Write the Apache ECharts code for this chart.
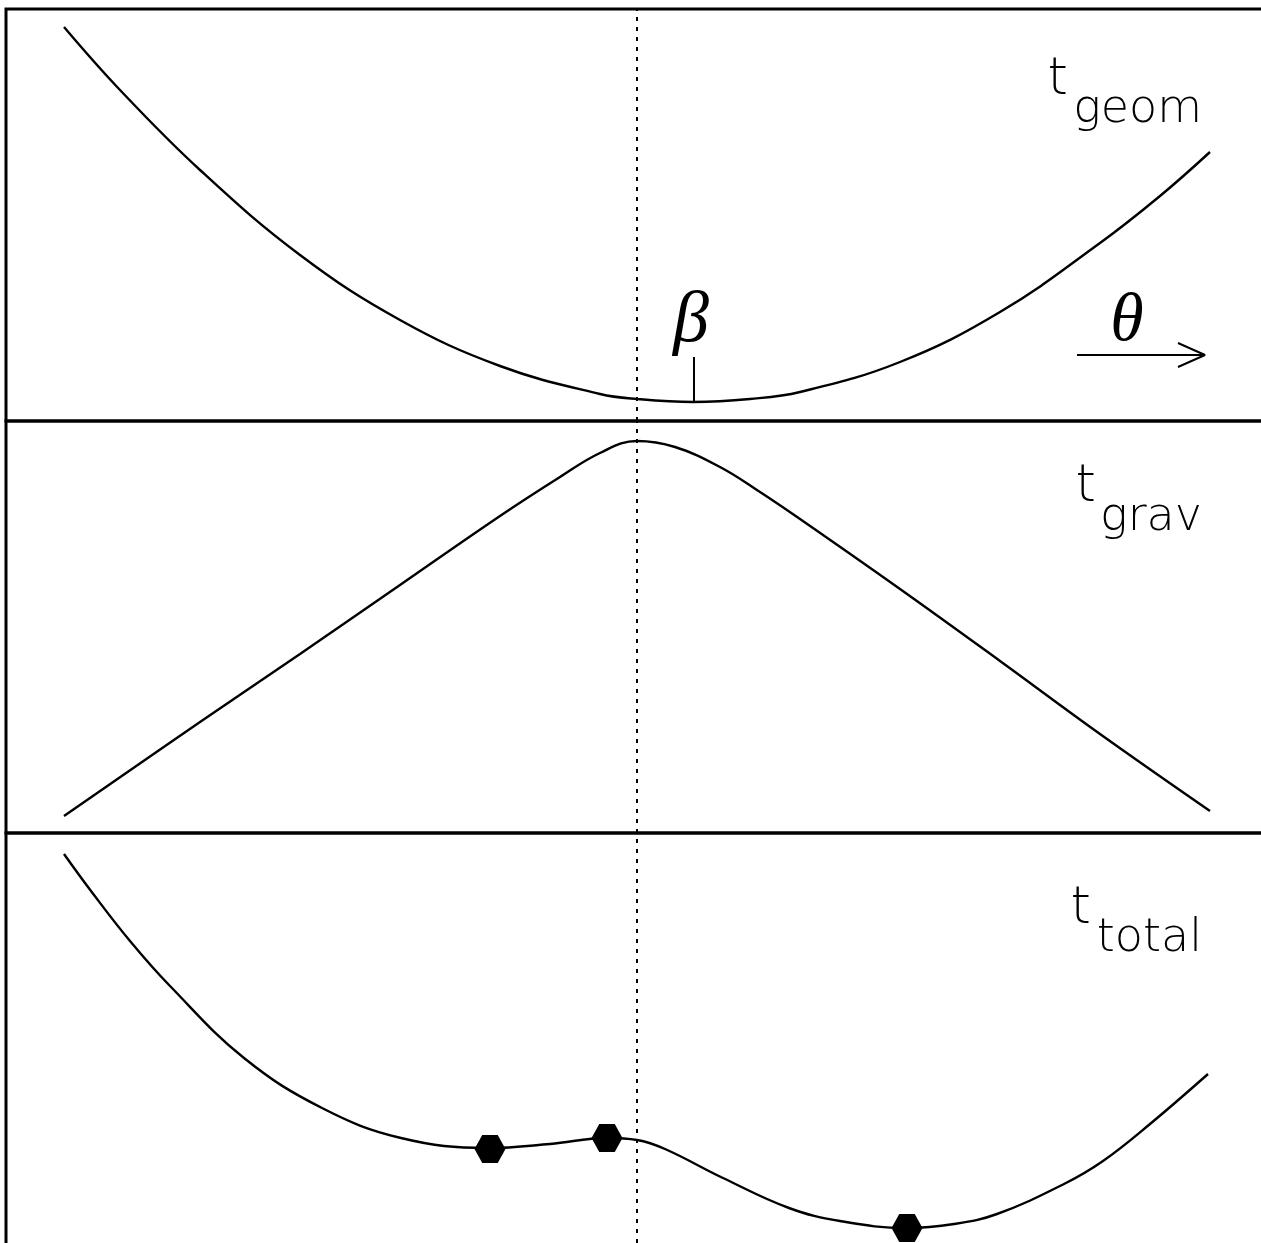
<!DOCTYPE html>
<html>
<head>
<meta charset="utf-8">
<script src="https://cdn.jsdelivr.net/npm/echarts@6/dist/echarts.min.js"></script>
<style>
  html, body { margin: 0; padding: 0; background: #fff; overflow: hidden; }
  #main { width: 1261px; height: 1243px; }
</style>
</head>
<body>
<div id="main"></div>
<script>
// theta positions (same scale in all panels) and heights above each panel floor
const thetaGeom = [64, 120, 200, 300, 400, 500, 600, 637, 693, 750, 800, 900, 1000, 1100, 1160, 1210];
const tGeom     = [394, 331, 251, 166, 101, 55, 27, 22, 19, 22, 29, 59, 109, 178, 225, 269];

const thetaGrav = [64, 200, 300, 400, 500, 560, 600, 637, 675, 720, 760, 800, 900, 1000, 1100, 1210];
const tGrav     = [17, 111, 179, 248, 317, 356, 380, 392, 386, 366, 341, 314, 244, 172, 99, 22];

const thetaTotal = [64, 91, 130, 170, 244, 322, 401, 488, 550, 607, 637, 665, 723, 789, 840, 907, 954, 997, 1064, 1103, 1150, 1208];
const tTotal     = [391, 354, 304, 259, 187, 137, 107, 97, 101, 107, 105, 96, 67, 37, 24, 17, 21, 31, 61, 84, 121, 171];

// stationary points (images) on t_total
const imageTheta = [490, 607, 907];
const imageT     = [96, 107, 17];

// annotations
const thetaDotted = 637;      // source position (dotted line)
const betaTheta = 694;        // beta tick
const betaTick = [19, 64];
const arrowTheta = [1077, 1205, 1178];
const arrowT = 66;

const zip = (xs, ys) => xs.map((x, i) => [x, ys[i]]);

const hexagon = 'path://M-1,0L-0.5,-0.866L0.5,-0.866L1,0L0.5,0.866L-0.5,0.866Z';

const dotted = {
    silent: true,
    symbol: 'none',
    label: { show: false },
    lineStyle: { color: '#000', type: [4, 6], width: 2 },
    data: [{ xAxis: thetaDotted }]
};

// grids reach past the right and bottom edge so only the left, top and divider lines show
const grids = [
    { left: 6, top: 9, width: 1320, height: 412 },
    { left: 6, top: 421, width: 1320, height: 412 },
    { left: 6, top: 833, width: 1320, height: 460 }
].map(g => Object.assign(g, {
    show: true, borderColor: '#000', borderWidth: 3, backgroundColor: 'transparent',
    outerBoundsMode: 'none', containLabel: false
}));

const xAxes = [0, 1, 2].map(i => ({
    gridIndex: i, type: 'value', min: 6, max: 1326,
    axisLine: { show: false }, axisTick: { show: false },
    axisLabel: { show: false }, splitLine: { show: false }
}));
const yMin = [0, 0, -48];
const yAxes = [0, 1, 2].map(i => ({
    gridIndex: i, type: 'value', min: yMin[i], max: 412,
    axisLine: { show: false }, axisTick: { show: false },
    axisLabel: { show: false }, splitLine: { show: false }
}));

const curve = (i, data) => ({
    type: 'line', xAxisIndex: i, yAxisIndex: i,
    data: data, smooth: 0.4, showSymbol: false,
    lineStyle: { color: '#000', width: 2.4 },
    markLine: dotted
});

const sub = 'DejaVu Sans';
const labelT = (right, y) => ({
    type: 'text', x: right, y: y,
    style: { text: 't', font: '200 52px "' + sub + '"', fill: '#000', align: 'right', verticalAlign: 'middle' }
});
const labelSub = (text, y) => ({
    type: 'text', x: 1202, y: y,
    style: { text: text, font: '200 46px "' + sub + '"', fill: '#000', align: 'right', verticalAlign: 'middle' }
});

const chart = echarts.init(document.getElementById('main'));
chart.setOption({
    animation: false,
    backgroundColor: '#fff',
    grid: grids,
    xAxis: xAxes,
    yAxis: yAxes,
    series: [
        curve(0, zip(thetaGeom, tGeom)),
        curve(1, zip(thetaGrav, tGrav)),
        curve(2, zip(thetaTotal, tTotal)),
        {
            type: 'line', xAxisIndex: 0, yAxisIndex: 0,
            data: [[betaTheta, betaTick[0]], [betaTheta, betaTick[1]]],
            showSymbol: false, lineStyle: { color: '#000', width: 2 }
        },
        {
            type: 'line', xAxisIndex: 0, yAxisIndex: 0,
            data: [[arrowTheta[0], arrowT], [arrowTheta[1], arrowT], [arrowTheta[2], arrowT - 12],
                   [arrowTheta[1], arrowT], [arrowTheta[2], arrowT + 12]],
            showSymbol: false, lineStyle: { color: '#000', width: 2 }
        },
        {
            type: 'scatter', xAxisIndex: 2, yAxisIndex: 2,
            data: zip(imageTheta, imageT),
            symbol: hexagon, symbolSize: [31, 28],
            itemStyle: { color: '#000', opacity: 1 }, z: 5
        }
    ],
    graphic: [
        labelT(1068, 80), labelSub('geom', 110),
        labelT(1096, 487), labelSub('grav', 518),
        labelT(1091, 909), labelSub('total', 939),
        {
            type: 'text', x: 691, y: 322,
            style: { text: 'β', font: 'italic 72px "Liberation Serif"', fill: '#000', align: 'center', verticalAlign: 'middle' }
        },
        {
            type: 'text', x: 1127, y: 322,
            style: { text: 'θ', font: 'italic 68px "Liberation Serif"', fill: '#000', align: 'center', verticalAlign: 'middle' }
        }
    ]
});
</script>
</body>
</html>
